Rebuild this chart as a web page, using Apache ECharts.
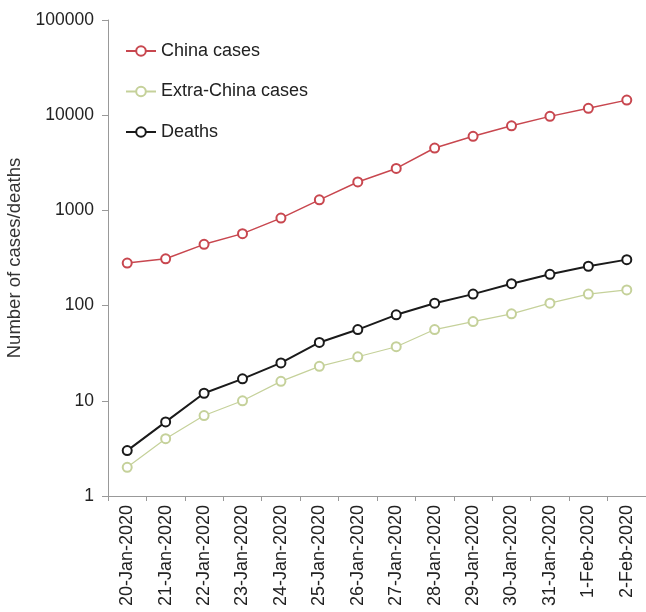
<!DOCTYPE html>
<html>
<head>
<meta charset="utf-8">
<script src="https://cdn.jsdelivr.net/npm/echarts@6/dist/echarts.min.js"></script>
<style>
  html, body { margin: 0; padding: 0; background: #fff; }
  #chart { width: 646px; height: 612px; }
</style>
</head>
<body>
<div id="chart"></div>
<script>
const dates = [
  "20-Jan-2020", "21-Jan-2020", "22-Jan-2020", "23-Jan-2020", "24-Jan-2020",
  "25-Jan-2020", "26-Jan-2020", "27-Jan-2020", "28-Jan-2020", "29-Jan-2020",
  "30-Jan-2020", "31-Jan-2020", "1-Feb-2020", "2-Feb-2020"
];
const chinaCases = [280, 310, 440, 570, 830, 1290, 1990, 2760, 4520, 6000, 7740, 9720, 11800, 14400];
const extraChinaCases = [2, 4, 7, 10, 16, 23, 29, 37, 56, 68, 82, 106, 132, 146];
const deaths = [3, 6, 12, 17, 25, 41, 56, 80, 106, 132, 170, 213, 259, 304];

const chart = echarts.init(document.getElementById("chart"));

const font = "Liberation Sans, Arial, sans-serif";

function lineSeries(name, data, color, width) {
  return {
    name: name,
    type: "line",
    data: data,
    symbol: "emptyCircle",
    symbolSize: 9,
    showSymbol: true,
    lineStyle: { color: color, width: width },
    itemStyle: { color: color, borderColor: color, borderWidth: 1.2 },
  };
}

chart.setOption({
  backgroundColor: "#fff",
  animation: false,
  textStyle: { fontFamily: font },
  legend: {
    orient: "vertical",
    left: 120,
    top: 37,
    itemGap: 22.5,
    itemWidth: 30,
    itemHeight: 12,
    textStyle: { fontSize: 18, color: "#222", fontFamily: font },
    data: ["China cases", "Extra-China cases", "Deaths"],
  },
  grid: { left: 108, top: 20, right: 0, bottom: 116, containLabel: false, outerBoundsMode: "none" },
  xAxis: {
    type: "category",
    data: dates,
    boundaryGap: true,
    axisLine: { lineStyle: { color: "#999", width: 1 } },
    axisTick: { show: true, length: 5, lineStyle: { color: "#999" } },
    axisLabel: {
      rotate: 90,
      interval: 0,
      margin: 9,
      fontSize: 18,
      color: "#222",
      fontFamily: font,
    },
  },
  yAxis: {
    type: "log",
    logBase: 10,
    min: 1,
    max: 100000,
    name: "Number of cases/deaths",
    nameLocation: "middle",
    nameGap: 70,
    nameTextStyle: { fontSize: 18.5, color: "#333", fontFamily: font },
    axisLine: { show: true, lineStyle: { color: "#999", width: 1 } },
    axisTick: { show: true, length: 6, lineStyle: { color: "#999" } },
    splitLine: { show: false },
    axisLabel: {
      fontSize: 17.5,
      color: "#222",
      margin: 14,
      fontFamily: font,
      formatter: (v) => String(Math.round(v)),
    },
  },
  series: [
    lineSeries("China cases", chinaCases, "#c8474f", 1.5),
    lineSeries("Extra-China cases", extraChinaCases, "#c5d19a", 1.2),
    lineSeries("Deaths", deaths, "#1a1a1a", 2),
  ],
});
</script>
</body>
</html>
